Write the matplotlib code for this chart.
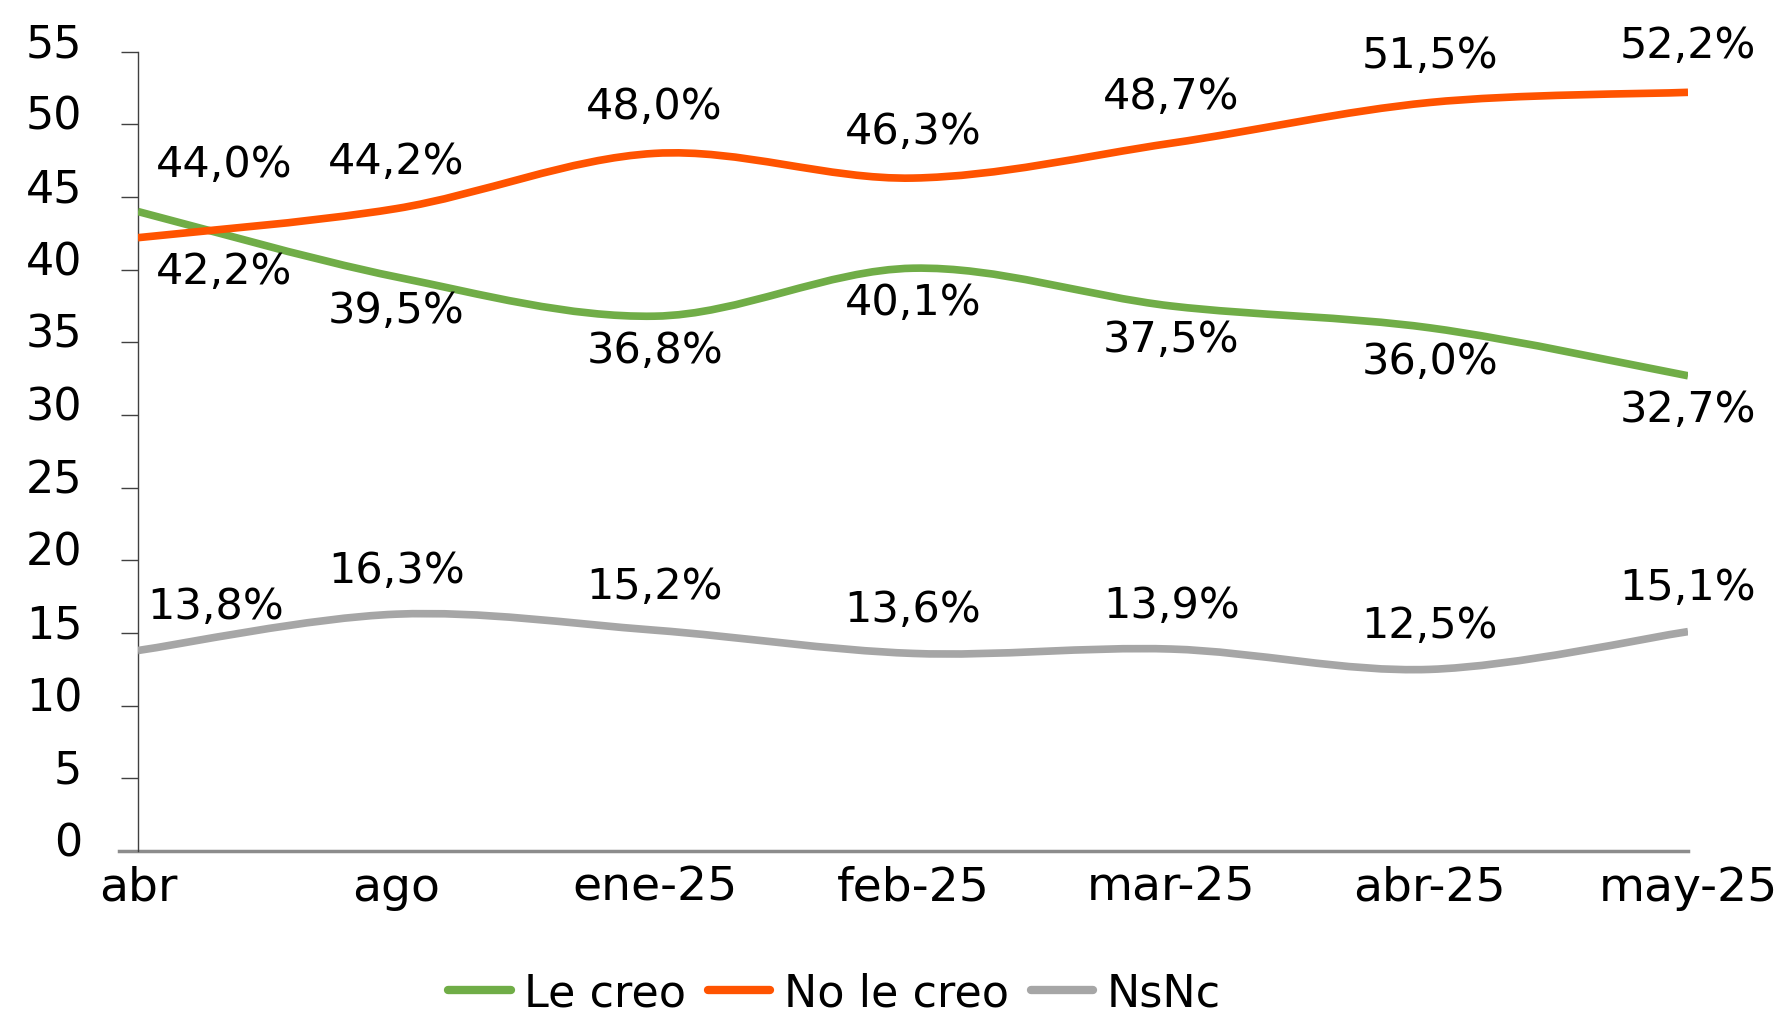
import numpy as np
import matplotlib
matplotlib.use('Agg')
import matplotlib.pyplot as plt
import matplotlib.transforms as mtransforms
from matplotlib.path import Path
from matplotlib.patches import PathPatch
from matplotlib.lines import Line2D

# datos del gráfico
meses = ['abr', 'ago', 'ene-25', 'feb-25', 'mar-25', 'abr-25', 'may-25']
le_creo = [44.0, 39.5, 36.8, 40.1, 37.5, 36.0, 32.7]
no_le_creo = [42.2, 44.2, 48.0, 46.3, 48.7, 51.5, 52.2]
nsnc = [13.8, 16.3, 15.2, 13.6, 13.9, 12.5, 15.1]

verde = '#70AD47'
naranja = '#FF5300'
gris = '#A6A6A6'

plt.rcParams['font.family'] = ['DejaVu Sans']


def curva_suave(xs, ys):
    'linea suavizada tipo Excel (Bezier por Catmull-Rom)'
    p = np.column_stack([xs, ys]).astype(float)
    ext = np.vstack([p[0], p, p[-1]])
    verts = [p[0]]
    codes = [Path.MOVETO]
    for i in range(len(p) - 1):
        p0, p1, p2, p3 = ext[i], ext[i + 1], ext[i + 2], ext[i + 3]
        verts += [p1 + (p2 - p0) / 6, p2 - (p3 - p1) / 6, p2]
        codes += [Path.CURVE4] * 3
    return Path(verts, codes)


def etiqueta(v):
    return '{:.1f}%'.format(v).replace('.', ',')


fig = plt.figure(figsize=(17.91, 10.12), dpi=100)
ax = fig.add_axes([0.077, 0.158, 0.8655, 0.79])

x = np.arange(len(meses))
series = [(le_creo, verde), (no_le_creo, naranja), (nsnc, gris)]
for ys, color in series:
    ax.add_patch(PathPatch(curva_suave(x, ys), fill=False, edgecolor=color,
                           linewidth=5.5, capstyle='butt', zorder=3))

fs = 31
for i, xi in enumerate(x):
    dx = 62 if i == 0 else 0
    # verde: debajo (salvo el primero), naranja: arriba (salvo el primero)
    dy_verde = 34 if i == 0 else -24
    dy_naranja = -24 if i == 0 else 34
    ax.annotate(etiqueta(le_creo[i]), (xi, le_creo[i]), xytext=(dx, dy_verde),
                textcoords='offset points', ha='center', va='center', fontsize=fs)
    ax.annotate(etiqueta(no_le_creo[i]), (xi, no_le_creo[i]), xytext=(dx, dy_naranja),
                textcoords='offset points', ha='center', va='center', fontsize=fs)
    ax.annotate(etiqueta(nsnc[i]), (xi, nsnc[i]), xytext=(dx * 0.9, 32),
                textcoords='offset points', ha='center', va='center', fontsize=fs)

ax.set_xlim(0, len(meses) - 1)
ax.set_ylim(0, 55)
ax.set_yticks(np.arange(0, 56, 5))
ax.set_xticks(x)
ax.set_xticklabels(meses)

for s in ['top', 'right', 'bottom']:
    ax.spines[s].set_visible(False)
ax.spines['left'].set_color('#404040')
ax.spines['left'].set_linewidth(1.0)
ax.plot([-0.012, 1.0], [0, 0], transform=ax.transAxes, color='#8C8C8C',
        linewidth=2.5, clip_on=False, zorder=2)

ax.tick_params(axis='y', length=12, width=1, color='#404040', pad=28,
               labelsize=32)
ax.tick_params(axis='x', length=0, pad=10, labelsize=34)

# etiquetas del eje y un poco por encima de su marca
desplaza = mtransforms.ScaledTranslation(0, 9 / 72, fig.dpi_scale_trans)
for lab in ax.get_yticklabels():
    lab.set_transform(lab.get_transform() + desplaza)

handles = [Line2D([], [], color=c, linewidth=6, solid_capstyle='round')
           for _, c in series]
fig.legend(handles, ['Le creo', 'No le creo', 'NsNc'], loc='center',
           bbox_to_anchor=(0.466, 0.018), ncol=3, frameon=False, fontsize=32,
           handlelength=1.4, handletextpad=0.3, columnspacing=0.5)

fig.savefig('out.png', dpi=100, facecolor='white')
